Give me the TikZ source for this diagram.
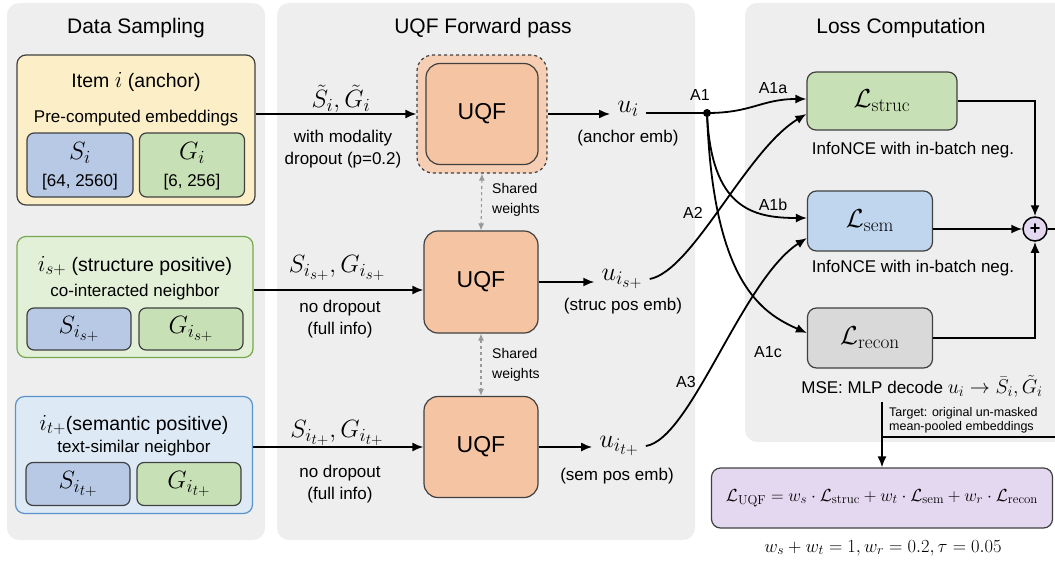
\RequirePackage{fix-cm}
\documentclass[tikz,border=0pt]{standalone}
\usepackage{amsmath,amssymb}
\usepackage[no-math]{fontspec}
\setmainfont{Liberation Sans}
\usetikzlibrary{arrows.meta,positioning}
\renewcommand\defaultscriptratio{.74}
\renewcommand\defaultscriptscriptratio{.6}
\newcommand\mbg[1]{{\fontsize{23}{24}\selectfont$#1$}}
\definecolor{panelgray}{HTML}{EEEEEE}
\definecolor{anchory}{HTML}{FCEFC8}
\definecolor{sblue}{HTML}{B7C9E5}
\definecolor{ggreen}{HTML}{C8E0B5}
\definecolor{sposfill}{HTML}{E3F0D8}
\definecolor{sposdraw}{HTML}{76A84F}
\definecolor{tposfill}{HTML}{DDEAF6}
\definecolor{tposdraw}{HTML}{5A93CB}
\definecolor{uqfcol}{HTML}{F5C4A3}
\definecolor{uqfglow}{HTML}{F6CEB4}
\definecolor{lblue}{HTML}{BFD6EE}
\definecolor{lgray}{HTML}{D9D9D9}
\definecolor{fpurple}{HTML}{E3D8F0}

\begin{document}
\begin{tikzpicture}[x=1pt,y=-1pt,every node/.style={inner sep=0pt,font=\fontsize{17}{22}\selectfont},
  ttl/.style={font=\fontsize{21}{24}\selectfont},
  big/.style={font=\fontsize{19.5}{22}\selectfont},
  mid/.style={font=\fontsize{17}{22}\selectfont},
  sml/.style={font=\fontsize{14}{20}\selectfont},
  tiny/.style={font=\fontsize{12.5}{14}\selectfont},
  mbig/.style={font=\fontsize{25}{27}\selectfont},
  mlab/.style={font=\fontsize{25}{27}\selectfont},
  uout/.style={font=\fontsize{26}{28}\selectfont,inner xsep=7pt},
  lbox/.style={box,minimum width=125pt,minimum height=60pt,font=\fontsize{26}{28}\selectfont},
  alab/.style={font=\fontsize{16}{18}\selectfont},
  box/.style={draw=black!75,line width=1.2pt,rounded corners=9pt},
  uqf/.style={box,fill=uqfcol,rounded corners=14pt,font=\fontsize{23}{26}\selectfont},
  arr/.style={line width=1.8pt,-{Latex[length=11pt,width=9pt]}},
  wire/.style={line width=1.8pt},
  shared/.style={gray!80,line width=1.1pt,dashed,{Latex[length=7pt,width=6pt]}-{Latex[length=7pt,width=6pt]}}]
\useasboundingbox (0,0) rectangle (1055,568);
% panels
\fill[panelgray,rounded corners=12pt] (7,3) rectangle (265,540);
\fill[panelgray,rounded corners=12pt] (277,3) rectangle (695,540);
\fill[panelgray,rounded corners=12pt] (745,3) rectangle (1070,442);
\node[ttl] (t1) at (136,28) {Data Sampling};
\node[ttl] (t2) at (483,28) {UQF Forward pass};
\node[ttl] (t3) at (901,28) {Loss Computation};

% data sampling
\node[box,fill=anchory,minimum width=238pt,minimum height=150pt] (anchor) at (136,130) {};
\node[big] (anchorlab) at (136,82) {Item \mbg{i} (anchor)};
\node[mid] (precomp) at (136,118) {Pre-computed embeddings};
\node[box,fill=sblue,rounded corners=7pt,minimum width=106pt,minimum height=64pt] (si) at (80,165) {};
\node[mbig] (silab) at (80,153) {$S_i$};
\node[mid] (sidim) at (80,182) {[64, 2560]};
\node[box,fill=ggreen,rounded corners=7pt,minimum width=105pt,minimum height=64pt] (gi) at (192,165) {};
\node[mbig] (gilab) at (192,153) {$G_i$};
\node[mid] (gidim) at (192,182) {[6, 256]};

\node[box,draw=sposdraw,fill=sposfill,minimum width=236pt,minimum height=121pt] (spos) at (135,297) {};
\node[big] (sposlab) at (135,266) {\mbg{i_{s+}} (structure positive)};
\node[mid] (sposnb) at (135,292) {co-interacted neighbor};
\node[box,fill=sblue,rounded corners=7pt,minimum width=104pt,minimum height=42pt,mbig] (ss) at (79,329) {$S_{i_{s+}}$};
\node[box,fill=ggreen,rounded corners=7pt,minimum width=104pt,minimum height=42pt,mbig] (gs) at (191,329) {$G_{i_{s+}}$};

\node[box,draw=tposdraw,fill=tposfill,minimum width=237pt,minimum height=117pt] (tpos) at (134,455) {};
\node[big] (tposlab) at (134,425) {\mbg{i_{t+}}(semantic positive)};
\node[mid] (tposnb) at (134,448) {text-similar neighbor};
\node[box,fill=sblue,rounded corners=7pt,minimum width=104pt,minimum height=43pt,mbig] (st) at (78,484) {$S_{i_{t+}}$};
\node[box,fill=ggreen,rounded corners=7pt,minimum width=104pt,minimum height=43pt,mbig] (gt) at (189,484) {$G_{i_{t+}}$};

% forward pass
\node[box,fill=uqfglow,dashed,rounded corners=16pt,minimum width=130pt,minimum height=118pt] (uqfaglow) at (482,114) {};
\node[uqf,minimum width=112pt,minimum height=101pt] (uqfa) at (482,114) {UQF};
\node[uqf,minimum width=114pt,minimum height=102pt] (uqfs) at (481,282) {UQF};
\node[uqf,minimum width=114pt,minimum height=101pt] (uqft) at (481,447) {UQF};
\draw[shared] (uqfaglow.south) -- (uqfs.north);
\draw[shared] (uqfs.south) -- (uqft.north);
\node[sml,align=left,anchor=west] (shw1) at (492,200) {Shared\\weights};
\node[sml,align=left,anchor=west] (shw2) at (492,365) {Shared\\weights};

\node[mlab] (ina) at (341,99) {$\tilde{S}_i, \tilde{G}_i$};
\node[mid,align=center] (dropa) at (343,149) {with modality\\dropout (p=0.2)};
\node[mlab] (ins) at (337,268) {$S_{i_{s+}}, G_{i_{s+}}$};
\node[mid,align=center] (drops) at (340,319) {no dropout\\(full info)};
\node[mlab] (int) at (337,433) {$S_{i_{t+}}, G_{i_{t+}}$};
\node[mid,align=center] (dropt) at (340,484) {no dropout\\(full info)};
\coordinate (sin) at ([yshift=-8pt]uqfs.west);
\draw[arr] (anchor.east |- uqfaglow.west) -- (uqfaglow.west);
\draw[arr] (spos.east |- sin) -- (sin);
\draw[arr] (tpos.east |- uqft.west) -- (uqft.west);

\node[uout] (ua) at (628,109) {$u_i$};
\node[mid] (uaemb) at (628,138) {(anchor emb)};
\node[uout] (us) at (622,279) {$u_{i_{s+}}$};
\node[mid] (usemb) at (623,306) {(struc pos emb)};
\node[uout] (ut) at (619,446) {$u_{i_{t+}}$};
\node[mid] (utemb) at (617,476) {(sem pos emb)};
\draw[arr] (uqfaglow.east) -- (uqfaglow.east -| ua.west);
\draw[arr] (uqfs.east) -- (uqfs.east -| us.west);
\draw[arr] (uqft.east) -- (uqft.east -| ut.west);

% loss computation
\node[lbox,fill=ggreen,minimum width=150pt,minimum height=58pt] (lstruc) at (882,101) {$\mathcal{L}_{\mathrm{struc}}$};
\node[lbox,fill=lblue] (lsem) at (870,221) {$\mathcal{L}_{\mathrm{sem}}$};
\node[lbox,fill=lgray] (lrecon) at (870,338) {$\mathcal{L}_{\mathrm{recon}}$};
\node[mid] (nce1) at (913,150) {InfoNCE with in-batch neg.};
\node[mid] (nce2) at (913,268) {InfoNCE with in-batch neg.};
\node[mid] (mse) at (922,386) {MSE: MLP decode {\fontsize{20}{22}\selectfont$u_i \rightarrow \bar{S}_i, \tilde{G}_i$}};
\node[tiny,align=left,anchor=west] (tgt) at (889,420) {Target: original un-masked\\mean-pooled embeddings};
\node[circle,draw,line width=1.5pt,fill=fpurple,minimum size=24pt,font=\fontsize{18}{20}\selectfont\bfseries] (plus) at (1035,229) {+};

\coordinate (a1) at (707,113);
\draw[wire] (ua.east |- a1) -- (a1);
\draw[arr] (a1) .. controls +(45,0) and +(-45,0) .. ([yshift=2pt]lstruc.west);
\draw[arr] (a1) .. controls +(4,95) and +(-55,0) .. ([yshift=3pt]lsem.west);
\draw[arr] (a1) .. controls +(6,170) and +(-45,-20) .. ([yshift=5pt]lrecon.west);
\draw[arr] (us.east) .. controls +(43,-8) and +(-60,36) .. ([yshift=-13pt]lstruc.west);
\draw[arr] (ut.east) .. controls +(45,-7) and +(-65,42) .. ([yshift=-17pt]lsem.west);
\fill (a1) circle (4pt);
\node[alab] (la1) at (700,95) {A1};
\node[alab] (la1a) at (773,88) {A1a};
\node[alab] (la1b) at (773,205) {A1b};
\node[alab] (la1c) at (768,352) {A1c};
\node[alab] (la2) at (693,213) {A2};
\node[alab] (la3) at (686,382) {A3};

\draw[arr] (lstruc.east) -| (plus.north);
\draw[arr] (lsem.east |- plus.west) -- (plus.west);
\draw[arr] (lrecon.east) -| (plus.south);

\node[box,fill=fpurple,minimum width=341pt,minimum height=60pt,font=\fontsize{17.5}{20}\selectfont] (formula) at (882,498) {$\mathcal{L}_{\mathrm{UQF}} = w_s\cdot\mathcal{L}_{\mathrm{struc}} + w_t\cdot\mathcal{L}_{\mathrm{sem}} + w_r\cdot\mathcal{L}_{\mathrm{recon}}$};
\node[font=\fontsize{18.5}{20}\selectfont] (wts) at (883,548) {$w_s + w_t = 1, w_r = 0.2, \tau = 0.05$};
\coordinate (tgttop) at (882,402);
\coordinate (join) at (882,437);
\draw[wire] (plus.east) -- ++(30,0) |- (join);
\draw[arr] (tgttop) -- (tgttop |- formula.north);
\end{tikzpicture}
\end{document}
